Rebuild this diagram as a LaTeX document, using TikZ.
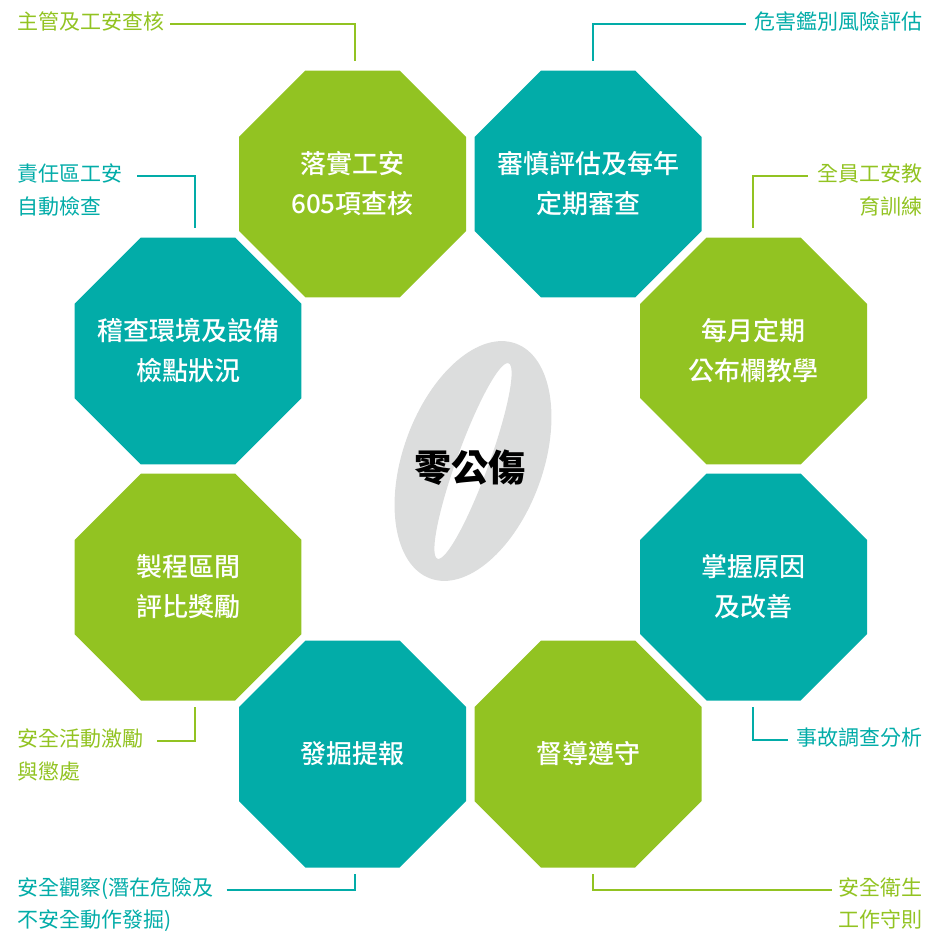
\documentclass[tikz,border=0pt]{standalone}
\usepackage{fontspec}
\setmainfont{Noto Sans CJK TC}
\newfontfamily\cjkmid{Noto Sans CJK TC Medium}
\usetikzlibrary{shapes.geometric,positioning}

\definecolor{leaf}{HTML}{92C322}
\definecolor{sea}{HTML}{02ACA8}
\definecolor{zerogray}{HTML}{DCDDDD}

\tikzset{
  oct/.style={regular polygon, regular polygon sides=8, minimum size=245.7pt,
    inner sep=-30pt, text=white, align=center, font=\cjkmid\fontsize{26}{40}\selectfont},
  octg/.style={oct, fill=leaf},
  octt/.style={oct, fill=sea},
  lab/.style={inner sep=0pt, text height=0.88em, text depth=0.12em,
    font=\fontsize{21}{33}\selectfont},
  labg/.style={lab, text=leaf},
  labt/.style={lab, text=sea},
  gline/.style={draw=leaf, line width=1.3pt},
  tline/.style={draw=sea, line width=1.3pt}
}

\begin{document}
\begin{tikzpicture}[x=1pt,y=-1pt]
    \useasboundingbox (0,0) rectangle (928,933);
    % big italic zero behind the title
    \begin{scope}[shift={(473,461)},rotate=70]
      \fill[zerogray,even odd rule] (0,0) ellipse [x radius=125pt, y radius=70pt]
                                     (0,0) ellipse [x radius=104pt, y radius=16pt];
    \end{scope}
    \node[font=\bfseries\fontsize{37}{40}\selectfont] (title) at (470,468) {零公傷};

    % ring of octagons
    \node[octg] (o1) at (352.5,184) {落實工安\\605項查核};
    \node[octt] (o2) at (588,184) {審慎評估及每年\\定期審查};
    \node[octg] (o3) at (753.5,351) {每月定期\\公布欄教學};
    \node[octt] (o4) at (753.5,587) {掌握原因\\及改善};
    \node[octg] (o5) at (588,754) {督導遵守};
    \node[octt] (o6) at (352.5,754) {發掘提報};
    \node[octg] (o7) at (188,587) {製程區間\\評比獎勵};
    \node[octt] (o8) at (188,351) {稽查環境及設備\\檢點狀況};

    % side labels
    \node[labg, anchor=west] (lab1) at (17,26) {主管及工安查核};
    \node[labt, anchor=east] (lab2) at (923,26) {危害鑑別風險評估};
    \node[labt, anchor=west] (lab3a) at (17,178) {責任區工安};
    \node[labt, anchor=west] (lab3b) at (17,211) {自動檢查};
    \node[labg, anchor=east] (lab4a) at (923,178) {全員工安教};
    \node[labg, anchor=east] (lab4b) at (923,211) {育訓練};
    \node[labg, anchor=west] (lab5a) at (17,743) {安全活動激勵};
    \node[labg, anchor=west] (lab5b) at (17,776) {與懲處};
    \node[labt, anchor=east] (lab6) at (923,742) {事故調查分析};
    \node[labt, anchor=west] (lab7a) at (17,892) {安全觀察(潛在危險及};
    \node[labt, anchor=west] (lab7b) at (17,924) {不安全動作發掘)};
    \node[labg, anchor=east] (lab8a) at (923,892) {安全衛生};
    \node[labg, anchor=east] (lab8b) at (923,924) {工作守則};

    % leader lines
    \coordinate (t1) at (355,61);
    \coordinate (t2) at (593,61);
    \coordinate (t3) at (195,228);
    \coordinate (t4) at (753,228);
    \coordinate (t5) at (195,707);
    \coordinate (t6) at (753,707);
    \coordinate (t7) at (355,874);
    \coordinate (t8) at (593,874);
    \draw[gline] ([xshift=6pt,yshift=2pt]lab1.east) -| (t1);
    \draw[tline] ([xshift=-9pt,yshift=2pt]lab2.west) -| (t2);
    \draw[tline] ([xshift=15pt,yshift=2pt]lab3a.east) -| (t3);
    \draw[gline] ([xshift=-10pt,yshift=2pt]lab4a.west) -| (t4);
    \draw[gline] ([xshift=14pt,yshift=2pt]lab5a.east) -| (t5);
    \draw[tline] ([xshift=-9pt,yshift=2pt]lab6.west) -| (t6);
    \draw[tline] ([xshift=13pt,yshift=2pt]lab7a.east) -| (t7);
    \draw[gline] ([xshift=-7pt,yshift=2pt]lab8a.west) -| (t8);
\end{tikzpicture}
\end{document}
